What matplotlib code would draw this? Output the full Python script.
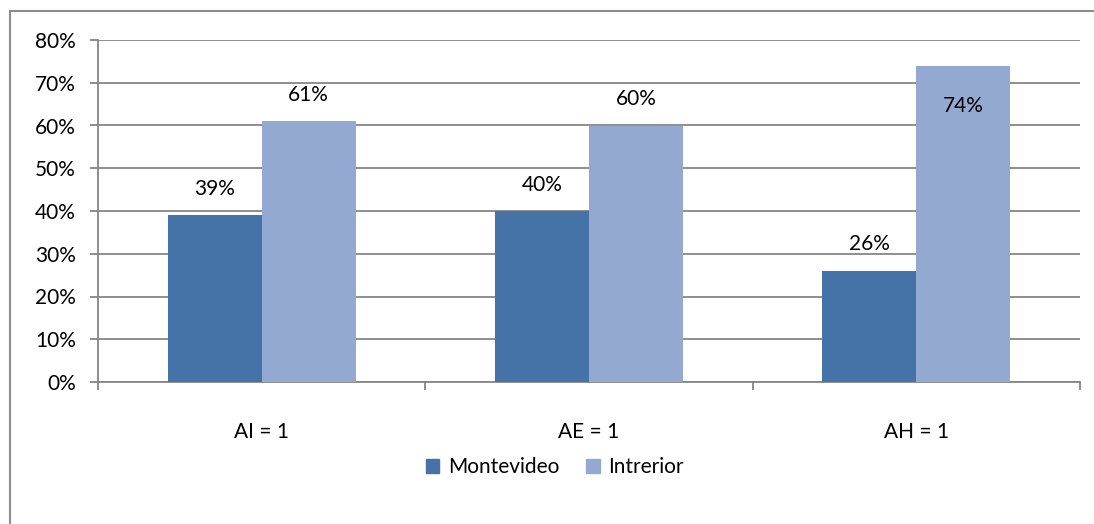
import numpy as np
import matplotlib.pyplot as plt
from matplotlib.lines import Line2D
from matplotlib.patches import Patch

plt.rcParams['font.family'] = ['Lato', 'DejaVu Sans']

# DATA #
categories = ['AI = 1', 'AE = 1', 'AH = 1']
series_names = ['Montevideo', 'Intrerior']
montevideo = [0.39, 0.40, 0.26]
interior = [0.61, 0.60, 0.74]

DARK = '#4573a7'
LIGHT = '#94a9d1'
GRID = '#868686'
FS = 15


def main():
    fig = plt.figure(figsize=(10.94, 5.24), dpi=100)
    ax = fig.add_axes([98 / 1094, 1 - 382 / 524, 982 / 1094, 342 / 524])

    x = np.arange(len(categories))
    width = 0.287
    bars_a = ax.bar(x - width / 2, montevideo, width, color=DARK, zorder=3)
    bars_b = ax.bar(x + width / 2, interior, width, color=LIGHT, zorder=3)

    ax.set_xlim(-0.5, len(categories) - 0.5)
    ax.set_ylim(0, 0.8)
    yt = np.arange(0, 0.81, 0.1)
    ax.set_yticks(yt)
    ax.set_yticklabels(['{:.0f}%'.format(v * 100) for v in yt], fontsize=FS)
    ax.yaxis.grid(True, color=GRID, linewidth=1.3, zorder=0)

    # category labels at centres, tick marks at the boundaries
    ax.set_xticks(x)
    ax.set_xticklabels(categories, fontsize=FS)
    ax.set_xticks(np.arange(-0.5, len(categories)), minor=True)
    ax.tick_params(axis='x', which='major', length=0, pad=29)
    ax.tick_params(axis='x', which='minor', length=6, width=1.3, color=GRID)
    ax.tick_params(axis='y', length=6, width=1.3, color=GRID, pad=10)

    for side in ['top', 'right']:
        ax.spines[side].set_visible(False)
    for side in ['left', 'bottom']:
        ax.spines[side].set_color(GRID)
        ax.spines[side].set_linewidth(1.3)

    # value labels above bars, inside when there is no room
    for bars, vals in [(bars_a, montevideo), (bars_b, interior)]:
        for b, v in zip(bars, vals):
            cx = b.get_x() + b.get_width() / 2
            off = -29 if v > 0.7 else 19
            ax.annotate('{:.0f}%'.format(v * 100), (cx, v), xytext=(0, off),
                        textcoords='offset points', ha='center', va='center',
                        fontsize=FS, color='black', zorder=4)

    handles = [Patch(color=DARK), Patch(color=LIGHT)]
    fig.legend(handles, series_names, loc='center', bbox_to_anchor=(0.507, 1 - 467 / 524),
               ncol=2, frameon=False, fontsize=FS, handlelength=0.65, handleheight=0.65,
               handletextpad=0.4, columnspacing=1.3)

    # chart area border
    y_top = 1 - 11 / 524
    x_left = 10 / 1094
    fig.add_artist(Line2D([x_left, 1.0], [y_top, y_top], color='#8c8c8c', linewidth=1.5))
    fig.add_artist(Line2D([x_left, x_left], [0.0, y_top], color='#8c8c8c', linewidth=1.5))

    fig.savefig('out.png', dpi=100)


if __name__ == "__main__":
    main()
